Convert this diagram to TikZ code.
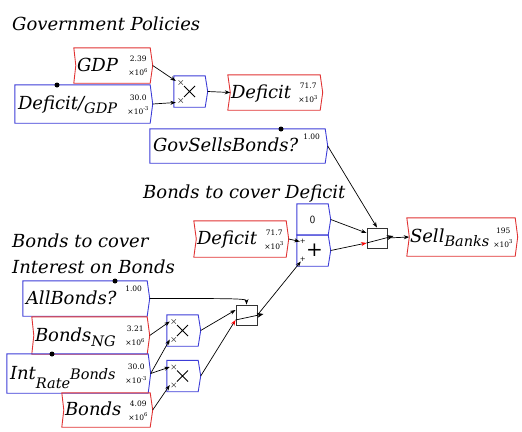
\documentclass[tikz,border=0pt]{standalone}
\usepackage{fontspec}
\setmainfont{DejaVu Serif}
\usetikzlibrary{arrows.meta}
\definecolor{vred}{RGB}{225,50,50}
\definecolor{vblue}{RGB}{60,60,215}
\newcommand\nm[1]{{\fontsize{18}{18}\selectfont\itshape #1}}
\newcommand\sm[1]{{\fontsize{14.5}{15}\selectfont\itshape #1}}
\newcommand\vf{\fontsize{7.5}{7.5}\selectfont}
% name, colour, centre, width, height, label, notch
\newcommand\varnode[7]{%
  \node[shp, minimum width=#4, minimum height=#5] (#1) at #3 {};
  \draw[#2, line width=0.9pt] (#1.north west) -- (#1.north east) -- ([xshift=2.5pt]#1.east)
    -- (#1.south east) -- (#1.south west) -- ([xshift=#7]#1.west) -- cycle;
  \coordinate (#1-out) at ([xshift=2.5pt]#1.east);
  \coordinate (#1-in) at ([xshift=#7]#1.west);
  \node[txt, anchor=base west] (#1-name) at ([xshift=3pt, yshift=-5.5pt]#1.west) {#6};
}
% two-line value: node, top line, bottom line
\newcommand\vals[3]{%
  \node[txt, anchor=base] (#1-v1) at ([xshift=-12pt,yshift=4pt]#1.east) {\vf #2};
  \node[txt, anchor=base] (#1-v2) at ([xshift=-12pt,yshift=-10pt]#1.east) {\vf #3};
}
\newcommand\xmark[2]{\draw[gray!60!black, line width=0.5pt] ([shift={(-#2,-#2)}]#1) -- ([shift={(#2,#2)}]#1) ([shift={(-#2,#2)}]#1) -- ([shift={(#2,-#2)}]#1);}
\tikzset{
  shp/.style={draw=none, inner sep=0pt},
  txt/.style={inner sep=0pt},
  wire/.style={line width=0.7pt, -{Stealth[length=5.5pt,width=4pt]}},
  rwire/.style={line width=0.7pt, -{Stealth[length=5.5pt,width=4pt,color=red]}},
  ind/.style={line width=0.7pt, -{Stealth[length=6.5pt,width=5pt]}},
  swbox/.style={draw=black!80, line width=0.9pt, inner sep=0pt},
  dot/.style={fill=black},
}
\begin{document}
\begin{tikzpicture}[x=1pt,y=-1pt]
\useasboundingbox (0,0) rectangle (522,431);

% titles
\node[txt, anchor=base west] (t1) at (12,30) {\nm{Government Policies}};
\node[txt, anchor=base west] (t2) at (143,198) {\nm{Bonds to cover Deficit}};
\node[txt, anchor=base west] (t3) at (12,247) {\nm{Bonds to cover}};
\node[txt, anchor=base west] (t4) at (12,273) {\nm{Interest on Bonds}};

% top group
\varnode{gdp}{vred}{(112,65.5)}{76}{35}{\nm{GDP}}{2pt}
\vals{gdp}{2.39}{×10\textsuperscript{6}}
\varnode{defgdp}{vblue}{(82.5,104)}{135}{38}{\nm{Deficit/\raisebox{-4pt}{\sm{GDP}}}}{0pt}
\vals{defgdp}{30.0}{×10\textsuperscript{-3}}
\varnode{mul1}{vblue}{(189.5,91.5)}{31}{31}{}{0pt}
\varnode{def1}{vred}{(274,92.5)}{92}{35}{\nm{Deficit}}{2.5pt}
\vals{def1}{71.7}{×10\textsuperscript{3}}
\varnode{gov}{vblue}{(237.5,146)}{175}{34}{\nm{GovSellsBonds?}}{0pt}
\node[txt, anchor=base east] (gov-v) at ([xshift=-5pt,yshift=-11pt]gov.north east) {\vf 1.00};

% middle group
\varnode{def2}{vred}{(240,239)}{92}{36}{\nm{Deficit}}{2.5pt}
\vals{def2}{71.7}{×10\textsuperscript{3}}
\varnode{zero}{vblue}{(312.5,219.5)}{31}{31}{}{0pt}
\node[txt] (zero-t) at (zero) {\sffamily\fontsize{11}{11}\selectfont 0};
\varnode{plus}{vblue}{(312.5,250.5)}{31}{31}{}{0pt}
\node[txt] (plus-t) at ([xshift=2pt]plus) {\fontsize{20}{20}\selectfont +};
\node[txt] (plus-a) at ([xshift=6pt,yshift=9pt]plus.west) {\fontsize{7}{7}\selectfont +};
\node[txt] (plus-b) at ([xshift=6pt,yshift=-9pt]plus.west) {\fontsize{7}{7}\selectfont +};
\node[swbox, minimum width=20, minimum height=20] (sw1) at (377,238) {};
\varnode{sell}{vred}{(461,237)}{108}{38}{\nm{Sell\raisebox{-4pt}{\sm{Banks}}}}{2.5pt}
\vals{sell}{195}{×10\textsuperscript{3}}

% bottom group
\varnode{allb}{vblue}{(85,298.5)}{124}{35}{\nm{AllBonds?}}{0pt}
\node[txt, anchor=base east] (allb-v) at ([xshift=-5pt,yshift=-11pt]allb.north east) {\vf 1.00};
\varnode{bng}{vred}{(89.5,335.5)}{115}{37}{\nm{Bonds\raisebox{-5pt}{\sm{NG}}}}{2pt}
\vals{bng}{3.21}{×10\textsuperscript{6}}
\varnode{intr}{vblue}{(77.5,373.5)}{141}{39}{\nm{Int\raisebox{-9pt}{\sm{Rate}}}\sm{Bonds}}{0pt}
\vals{intr}{30.0}{×10\textsuperscript{-3}}
\varnode{bonds}{vred}{(106,410)}{88}{34}{\nm{Bonds}}{2pt}
\vals{bonds}{4.09}{×10\textsuperscript{6}}
\varnode{mul2}{vblue}{(182.5,330.5)}{31}{31}{}{0pt}
\varnode{mul3}{vblue}{(182.5,376)}{31}{31}{}{0pt}
\node[swbox, minimum width=21, minimum height=20] (sw2) at (246.5,315) {};

% multiply glyphs
\foreach \m in {mul1,mul2,mul3}{
  \draw[line width=0.8pt] ([shift={(-5.5,-5.5)}]\m.center) -- ([shift={(5.5,5.5)}]\m.center)
    ([shift={(-5.5,5.5)}]\m.center) -- ([shift={(5.5,-5.5)}]\m.center);
  \coordinate (\m-pa) at ([xshift=7pt,yshift=9pt]\m.west);
  \coordinate (\m-pb) at ([xshift=7pt,yshift=-9pt]\m.west);
  \xmark{\m-pa}{2.2}
  \xmark{\m-pb}{2.2}
}

% dots
\fill[dot] (57,85) circle (2.5);
\fill[dot] (281,129) circle (2.5);
\fill[dot] (115,281) circle (2.5);
\fill[dot] (52,354) circle (2.5);

% wires top
\draw[wire] (gdp-out) -- ([xshift=2pt,yshift=10.5pt]mul1.west);
\draw[wire] (defgdp-out) -- ([xshift=2pt,yshift=-11pt]mul1.west);
\draw[wire] (mul1-out) -- (def1-in);
\draw[wire] (gov-out) -- (sw1.north);
\draw[wire] (def2-out) -- ([xshift=3pt,yshift=9pt]plus.west);
\draw[wire] (zero-out) -- ([yshift=5pt]sw1.west);
\draw[rwire] (plus-out) -- ([yshift=-5pt]sw1.west);
\draw[ind] ([yshift=-5pt]sw1.west) -- ([xshift=6pt,yshift=2pt]sw1.east);
\draw[wire] (sw1.east) -- (sell-in);

% wires bottom
\draw[wire] (allb-out) .. controls (238,298.5) and (246.5,298.5) .. (sw2.north);
\draw[wire] (bng-out) -- ([xshift=3pt,yshift=9pt]mul2.west);
\draw[wire] (intr-out) -- ([xshift=3pt,yshift=-9pt]mul2.west);
\draw[wire] (intr-out) -- ([xshift=3pt,yshift=9pt]mul3.west);
\draw[wire] (bonds-out) -- ([xshift=3pt,yshift=-9pt]mul3.west);
\draw[wire] (mul2-out) -- ([yshift=5pt]sw2.west);
\draw[rwire] (mul3-out) -- ([yshift=-5pt]sw2.west);
\draw[ind] ([yshift=-5pt]sw2.west) -- ([xshift=6pt,yshift=1pt]sw2.east);
\draw[wire] (sw2.east) -- ([xshift=4pt,yshift=-11pt]plus.west);
\end{tikzpicture}
\end{document}
